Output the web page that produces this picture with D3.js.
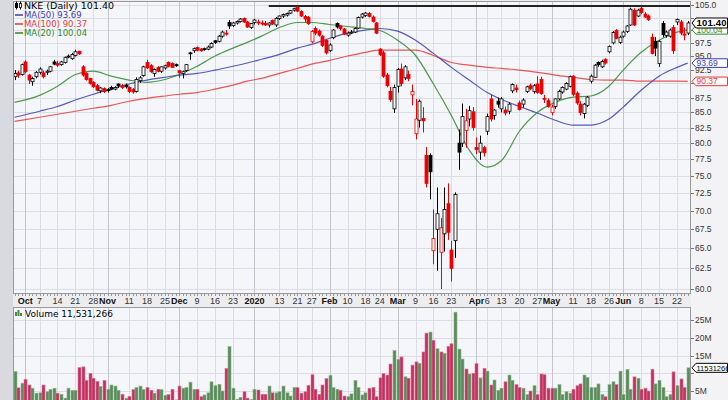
<!DOCTYPE html>
<html><head><meta charset="utf-8">
<script src="https://cdn.jsdelivr.net/npm/d3@7"></script>
<style>body{margin:0;background:#fff}svg{display:block}</style>
</head><body><svg id="c" width="728" height="400"></svg>
<script>
// ---------- DATA ----------
const dates = [
"2019-09-26","2019-09-27","2019-09-30",
"2019-10-01","2019-10-02","2019-10-03","2019-10-04","2019-10-07","2019-10-08","2019-10-09","2019-10-10","2019-10-11","2019-10-14","2019-10-15","2019-10-16","2019-10-17","2019-10-18","2019-10-21","2019-10-22","2019-10-23","2019-10-24","2019-10-25","2019-10-28","2019-10-29","2019-10-30","2019-10-31",
"2019-11-01","2019-11-04","2019-11-05","2019-11-06","2019-11-07","2019-11-08","2019-11-11","2019-11-12","2019-11-13","2019-11-14","2019-11-15","2019-11-18","2019-11-19","2019-11-20","2019-11-21","2019-11-22","2019-11-25","2019-11-26","2019-11-27","2019-11-29",
"2019-12-02","2019-12-03","2019-12-04","2019-12-05","2019-12-06","2019-12-09","2019-12-10","2019-12-11","2019-12-12","2019-12-13","2019-12-16","2019-12-17","2019-12-18","2019-12-19","2019-12-20","2019-12-23","2019-12-24","2019-12-26","2019-12-27","2019-12-30","2019-12-31",
"2020-01-02","2020-01-03","2020-01-06","2020-01-07","2020-01-08","2020-01-09","2020-01-10","2020-01-13","2020-01-14","2020-01-15","2020-01-16","2020-01-17","2020-01-21","2020-01-22","2020-01-23","2020-01-24","2020-01-27","2020-01-28","2020-01-29","2020-01-30","2020-01-31",
"2020-02-03","2020-02-04","2020-02-05","2020-02-06","2020-02-07","2020-02-10","2020-02-11","2020-02-12","2020-02-13","2020-02-14","2020-02-18","2020-02-19","2020-02-20","2020-02-21","2020-02-24","2020-02-25","2020-02-26","2020-02-27","2020-02-28",
"2020-03-02","2020-03-03","2020-03-04","2020-03-05","2020-03-06","2020-03-09","2020-03-10","2020-03-11","2020-03-12","2020-03-13","2020-03-16","2020-03-17","2020-03-18","2020-03-19","2020-03-20","2020-03-23","2020-03-24","2020-03-25","2020-03-26","2020-03-27","2020-03-30","2020-03-31",
"2020-04-01","2020-04-02","2020-04-03","2020-04-06","2020-04-07","2020-04-08","2020-04-09","2020-04-13","2020-04-14","2020-04-15","2020-04-16","2020-04-17","2020-04-20","2020-04-21","2020-04-22","2020-04-23","2020-04-24","2020-04-27","2020-04-28","2020-04-29","2020-04-30",
"2020-05-01","2020-05-04","2020-05-05","2020-05-06","2020-05-07","2020-05-08","2020-05-11","2020-05-12","2020-05-13","2020-05-14","2020-05-15","2020-05-18","2020-05-19","2020-05-20","2020-05-21","2020-05-22","2020-05-26","2020-05-27","2020-05-28","2020-05-29",
"2020-06-01","2020-06-02","2020-06-03","2020-06-04","2020-06-05","2020-06-08","2020-06-09","2020-06-10","2020-06-11","2020-06-12","2020-06-15","2020-06-16","2020-06-17","2020-06-18","2020-06-19","2020-06-22","2020-06-23","2020-06-24","2020-06-25"
];
const opens = [
91.2,91.9,91.6,
93.9,91.5,90.3,91.2,92.0,91.9,92.0,92.2,93.9,93.6,93.4,93.8,95.0,94.5,95.1,95.9,93.0,91.8,90.9,90.2,89.6,88.7,89.1,
88.9,89.3,89.0,89.9,89.6,89.7,89.3,88.9,88.6,90.5,91.4,93.8,93.2,91.8,92.9,92.2,92.8,93.8,93.6,93.4,
92.3,91.8,92.3,95.6,96.0,96.6,96.3,96.4,96.3,96.7,97.9,97.8,98.8,99.4,101.5,100.9,101.4,101.7,102.3,101.6,100.5,
101.5,101.6,101.4,101.3,101.0,101.9,101.0,102.3,102.8,103.0,103.4,104.0,104.6,103.7,102.7,102.5,97.7,100.3,99.8,98.8,98.0,
96.0,98.5,101.3,100.8,100.2,99.0,99.5,99.6,100.4,102.6,102.9,103.3,102.6,101.4,96.3,95.6,91.5,88.6,85.6,
89.5,92.6,91.0,91.6,88.0,81.5,83.7,84.0,78.1,78.1,64.7,67.5,64.5,66.9,71.0,64.8,66.0,80.0,80.0,82.0,83.9,85.1,
79.3,78.6,79.3,81.9,87.3,84.5,86.9,85.6,85.4,85.2,88.7,89.2,86.6,86.4,88.6,89.6,88.6,89.9,90.7,87.4,87.0,
85.0,86.0,87.3,88.5,89.0,89.5,91.3,88.3,86.4,84.8,86.2,90.4,91.1,93.8,93.0,94.4,95.8,97.5,99.9,97.6,
98.8,99.7,101.0,104.0,102.8,104.4,103.2,102.8,98.6,97.8,93.6,101.3,98.9,98.8,100.5,101.6,101.6,99.2,99.4
];
const highs = [
92.4,92.3,93.6,
94.2,91.7,91.2,92.2,92.9,92.3,92.5,93.1,94.3,94.1,94.1,94.9,95.3,95.6,96.2,96.0,93.3,92.0,91.0,90.4,89.9,89.4,89.3,
89.2,89.6,89.5,90.0,89.9,90.0,89.5,89.2,91.1,91.3,93.2,94.3,93.5,92.7,93.1,93.1,93.4,94.0,93.8,93.6,
92.4,92.3,93.5,95.8,96.6,96.8,96.5,96.6,97.0,97.6,98.0,99.0,99.9,100.0,102.0,101.6,101.9,102.4,102.5,101.8,101.4,
102.2,102.1,101.9,101.8,101.6,102.1,102.6,102.9,103.3,103.5,104.0,104.5,104.9,104.0,103.0,102.8,100.0,100.7,100.1,99.0,98.2,
97.4,100.2,101.5,101.0,100.4,99.7,100.0,100.5,102.7,103.4,103.6,103.6,102.9,101.6,96.5,96.0,91.9,89.4,89.8,
92.8,93.6,93.3,92.3,89.8,87.3,87.2,85.9,79.4,78.4,70.2,73.3,69.0,73.3,73.9,66.0,72.6,82.2,86.5,85.6,86.1,85.9,
80.9,81.2,79.6,84.8,88.0,85.6,87.5,87.6,86.0,86.7,90.0,89.8,87.0,87.4,89.6,90.0,89.9,91.3,91.2,88.0,87.4,
86.3,87.4,88.9,89.5,90.2,91.4,91.5,88.6,86.9,86.6,87.8,91.6,93.5,94.0,94.3,94.6,97.0,99.8,100.2,98.9,
99.9,101.0,104.5,104.4,104.3,104.8,103.6,103.1,99.3,98.6,98.0,101.8,99.9,100.3,101.0,102.3,102.0,100.5,101.8
];
const lows = [
90.6,91.0,91.4,
91.8,89.9,89.6,90.9,91.6,90.9,91.5,92.0,93.3,93.0,93.2,93.6,94.6,94.3,94.9,95.2,91.2,90.5,89.8,89.2,88.6,88.3,88.3,
88.4,88.8,88.8,89.2,89.0,89.1,88.3,88.2,88.4,90.1,91.2,92.6,91.9,91.2,92.0,91.9,92.5,92.9,92.8,93.0,
91.0,90.9,92.1,94.3,95.6,95.9,95.8,96.0,96.1,96.5,97.3,97.6,98.5,98.9,100.2,100.6,101.1,101.5,101.4,100.4,100.2,
101.1,101.0,100.9,100.8,100.5,101.0,100.6,102.0,102.4,102.7,103.2,103.7,103.6,102.6,101.6,101.0,97.4,99.0,98.7,96.7,95.3,
95.8,98.2,100.3,99.9,99.0,98.7,99.2,99.4,100.2,102.3,102.6,102.5,101.5,99.2,95.0,91.0,89.3,86.8,84.9,
88.4,89.5,90.6,90.4,86.2,80.6,82.5,81.7,73.3,71.6,63.0,62.2,60.0,64.6,66.1,60.9,63.8,75.9,79.4,79.3,82.7,82.0,
78.3,77.4,77.9,81.3,83.5,83.8,85.8,85.0,84.5,84.7,88.3,88.4,85.3,85.8,88.3,88.8,88.2,88.2,88.0,86.6,85.8,
84.5,85.6,87.1,88.2,88.8,89.3,87.8,86.3,84.5,84.0,85.9,90.0,91.0,93.0,92.8,93.4,95.5,97.2,98.2,97.3,
98.5,99.4,100.8,100.8,102.6,103.2,102.4,101.8,95.3,95.0,93.0,98.6,98.5,98.5,95.4,101.0,99.0,98.0,99.0
];
const closes = [
91.8,91.5,93.4,
92.1,90.6,90.9,92.0,92.6,91.2,92.2,93.0,93.5,93.3,93.9,94.7,94.8,95.3,95.8,95.4,91.5,90.7,90.0,89.4,88.8,89.2,88.6,
88.9,89.0,89.3,89.6,89.3,89.4,88.6,88.5,90.7,91.0,93.0,92.8,92.1,92.5,92.2,93.0,93.2,93.1,92.9,93.2,
91.9,92.1,93.4,95.5,96.4,96.1,96.0,96.2,96.7,97.4,97.6,98.8,99.6,99.2,100.8,101.4,101.7,102.2,101.6,100.6,101.3,
102.0,101.5,101.2,101.0,101.4,101.2,102.3,102.8,103.1,103.3,103.9,104.3,103.8,102.8,102.2,101.3,99.7,99.4,99.0,97.0,95.6,
97.1,100.0,100.6,100.3,99.2,99.4,99.6,100.3,102.5,103.2,103.4,102.7,101.7,99.4,95.3,91.3,89.6,87.2,89.3,
92.5,90.0,93.0,90.9,88.6,83.9,86.9,83.6,73.9,75.6,66.3,69.6,67.7,70.2,67.1,62.5,72.3,78.6,84.3,83.6,85.3,82.5,
79.0,80.0,78.5,84.3,83.9,85.4,86.4,87.3,84.9,86.4,89.8,88.9,85.5,87.1,89.4,89.1,89.6,88.4,88.2,87.3,86.0,
85.9,87.3,88.6,89.3,90.0,91.2,88.1,86.6,85.0,86.4,87.6,91.3,93.3,93.4,94.0,93.7,96.8,99.5,98.4,98.6,
99.6,100.8,104.2,101.0,104.0,103.5,102.6,102.1,95.5,96.5,97.8,99.1,99.6,100.0,96.0,102.1,99.4,99.0,101.4
];
const volumes = [ // millions of shares
10.5,5.9,7.2,
8.3,6.7,5.8,4.4,4.5,6.7,4.8,5.4,5.8,4.4,4.1,3.0,5.8,5.2,5.2,11.6,11.8,8.0,10.0,8.6,7.7,6.3,8.0,
5.5,6.7,6.4,5.2,4.1,3.0,3.5,5.4,6.0,6.4,5.4,6.0,5.2,4.4,5.5,5.4,3.8,4.0,5.5,2.5,
6.4,5.8,6.0,7.5,5.5,5.5,3.4,3.9,4.5,7.6,6.5,6.9,5.0,11.4,17.5,5.8,2.7,3.2,4.8,3.0,2.6,
5.5,5.3,4.1,4.1,6.4,4.5,4.5,4.8,6.4,4.5,3.6,6.0,6.0,4.4,4.8,6.6,9.6,5.5,4.1,6.7,8.5,
9.4,6.0,5.5,5.2,3.6,3.4,4.2,8.0,6.0,3.9,4.5,5.8,6.0,3.4,8.7,9.9,9.5,12.6,16.4,
13.9,14.6,9.0,8.6,12.3,13.2,12.8,16.0,21.3,21.6,19.3,16.9,16.0,15.6,17.6,18.3,27.2,16.8,14.0,11.2,9.8,10.0,
12.7,8.7,11.4,10.6,6.7,8.1,5.2,5.8,7.6,9.5,8.0,6.8,6.0,5.8,4.0,5.0,6.5,4.0,9.8,9.6,5.8,
5.8,5.8,6.8,4.0,4.8,4.4,5.5,6.5,7.0,9.5,8.8,6.0,6.0,7.0,4.0,3.4,6.8,7.6,6.8,10.6,
4.0,11.1,5.5,9.0,8.6,5.5,5.8,5.0,11.1,7.0,8.0,6.0,3.4,4.0,10.4,6.5,8.4,6.0,11.531266
];
const maDates = ["2019-09-26","2019-10-07","2019-10-14","2019-10-21","2019-10-28","2019-11-04","2019-11-11","2019-11-18","2019-11-25","2019-12-02","2019-12-09","2019-12-16","2019-12-23","2019-12-30","2020-01-06","2020-01-13","2020-01-21","2020-01-27","2020-02-03","2020-02-10","2020-02-18","2020-02-24","2020-03-02","2020-03-09","2020-03-16","2020-03-23","2020-03-30","2020-04-06","2020-04-13","2020-04-20","2020-04-27","2020-05-04","2020-05-11","2020-05-18","2020-05-26","2020-06-01","2020-06-08","2020-06-15","2020-06-22","2020-06-25"];
const ma20 = [86.7,87.9,89.5,91.6,92.2,91.3,90.6,90.2,90.7,91.6,93.1,95.0,96.5,97.6,98.8,100.5,101.5,101.5,101.1,100.7,100.3,99.9,98.0,95.1,89.9,84.5,78.9,76.3,77.3,81.9,85.0,86.7,87.6,87.8,89.5,92.4,95.7,98.0,99.6,100.04];
const ma50 = [84.2,85.2,86.0,87.1,88.1,89.0,89.9,90.6,91.1,91.5,91.8,92.4,93.1,93.7,94.4,95.3,96.5,97.2,98.4,99.4,100.0,100.3,99.8,98.0,95.5,92.9,90.6,88.4,87.2,86.0,84.9,83.7,82.9,82.9,83.9,85.9,88.8,91.3,92.9,93.69];
const ma100 = [83.5,84.2,84.7,85.2,85.7,86.2,86.9,87.4,87.8,88.1,88.4,89.0,89.7,90.4,90.9,91.8,92.7,93.5,94.2,95.0,95.7,96.1,96.1,96.1,95.1,93.8,93.3,92.9,92.7,92.4,92.0,91.5,91.1,90.7,90.6,90.6,90.4,90.4,90.4,90.37];
const priceTicks = [60,62.5,65,67.5,70,72.5,75,77.5,80,82.5,85,87.5,90,92.5,95,97.5,100,102.5,105];
const volTicks = [5,10,15,20,25];
const xLabels = [
["2019-10-01","Oct",1],["2019-10-07","7",0],["2019-10-14","14",0],["2019-10-21","21",0],["2019-10-28","28",0],
["2019-11-01","Nov",1],["2019-11-11","11",0],["2019-11-18","18",0],["2019-11-25","25",0],
["2019-12-02","Dec",1],["2019-12-09","9",0],["2019-12-16","16",0],["2019-12-23","23",0],
["2020-01-02","2020",1],["2020-01-13","13",0],["2020-01-21","21",0],["2020-01-27","27",0],
["2020-02-03","Feb",1],["2020-02-10","10",0],["2020-02-18","18",0],["2020-02-24","24",0],
["2020-03-02","Mar",1],["2020-03-09","9",0],["2020-03-16","16",0],["2020-03-23","23",0],
["2020-04-01","Apr",1],["2020-04-06","6",0],["2020-04-13","13",0],["2020-04-20","20",0],["2020-04-27","27",0],
["2020-05-01","May",1],["2020-05-11","11",0],["2020-05-18","18",0],["2020-05-26","26",0],
["2020-06-01","Jun",1],["2020-06-08","8",0],["2020-06-15","15",0],["2020-06-22","22",0]
];
const resistance = {from:"2020-01-08", price:104.85};
const legend = {title:"NKE (Daily) 101.40", last:101.40, ma50:93.69, ma100:90.37, ma20:100.04, vol:"Volume 11,531,266", volTag:"11531266"};

// ---------- LAYOUT ----------
const svg = d3.select("#c");
const L=13, R=691, PT=1, PB=294, VT=307, VB=412;
const C_BLUE="#3c3cb4", C_RED="#e8393b", C_GREEN="#2f8a2f";
const FONT="'DejaVu Sans', Verdana, sans-serif";
const AFONT="'Liberation Sans', Arial, sans-serif";

svg.append("rect").attr("width",728).attr("height",400).attr("fill","#ededf0");
svg.append("rect").attr("x",0).attr("y",0).attr("width",L).attr("height",400).attr("fill","#d9dadf");
svg.append("rect").attr("x",R).attr("y",0).attr("width",728-R).attr("height",400).attr("fill","#f3f3f5");

const x = d3.scalePoint().domain(dates).range([14.5, 687.7]);
const y = d3.scaleLog().domain([60,105]).range([289,5.3]);
const yv = d3.scaleLinear().domain([0,25]).range([408.8,320]);

svg.append("rect").attr("x",L).attr("y",PT).attr("width",R-L).attr("height",PB-PT).attr("fill","#f5f6fa");
svg.append("rect").attr("x",L).attr("y",VT).attr("width",R-L).attr("height",VB-VT).attr("fill","#f5f6fa");

const gridC="#dcdde4", gridM="#c4c5cc";
svg.append("g").selectAll("line").data(priceTicks).join("line")
  .attr("x1",L).attr("x2",R).attr("y1",d=>Math.round(y(d))+0.5).attr("y2",d=>Math.round(y(d))+0.5)
  .attr("stroke",gridC).attr("stroke-width",1);
svg.append("g").selectAll("line").data(volTicks).join("line")
  .attr("x1",L).attr("x2",R).attr("y1",d=>Math.round(yv(d))+0.5).attr("y2",d=>Math.round(yv(d))+0.5)
  .attr("stroke",gridC).attr("stroke-width",1);
[[PT,PB],[VT,VB]].forEach(([t,b])=>{
  svg.append("g").selectAll("line").data(xLabels).join("line")
    .attr("x1",d=>Math.round(x(d[0]))+0.5).attr("x2",d=>Math.round(x(d[0]))+0.5)
    .attr("y1",t).attr("y2",b).attr("stroke",d=>d[2]?gridM:gridC).attr("stroke-width",1);
});

const tags = [
  {y:y(legend.ma20), txt:legend.ma20.toFixed(2), stroke:C_GREEN, col:C_GREEN, bold:false},
  {y:y(legend.last), txt:legend.last.toFixed(2), stroke:"#000", col:"#000", bold:true},
  {y:y(legend.ma50), txt:legend.ma50.toFixed(2), stroke:C_BLUE, col:C_BLUE, bold:false},
  {y:y(legend.ma100), txt:legend.ma100.toFixed(2), stroke:C_RED, col:C_RED, bold:false}
];
const covered = t => tags.some(g=>Math.abs(g.y-y(t))<6);

const ax = svg.append("g");
ax.selectAll("text").data(priceTicks.filter(t=>!covered(t))).join("text")
  .attr("x",695).attr("y",d=>y(d)+3).attr("font-family",AFONT).attr("font-size",8.5).attr("fill","#333")
  .text(d=>d.toFixed(1));
ax.selectAll("line").data(priceTicks).join("line")
  .attr("x1",R).attr("x2",R+3).attr("y1",d=>Math.round(y(d))+0.5).attr("y2",d=>Math.round(y(d))+0.5)
  .attr("stroke","#777");
const vax = svg.append("g");
vax.selectAll("text").data(volTicks.filter(t=>Math.abs(yv(t)-yv(volumes[volumes.length-1]))>6)).join("text")
  .attr("x",695).attr("y",d=>yv(d)+3).attr("font-family",AFONT).attr("font-size",8.5).attr("fill","#333")
  .text(d=>d+"M");
vax.selectAll("line").data(volTicks).join("line")
  .attr("x1",R).attr("x2",R+3).attr("y1",d=>Math.round(yv(d))+0.5).attr("y2",d=>Math.round(yv(d))+0.5)
  .attr("stroke","#777");

svg.append("g").selectAll("line").data(dates).join("line")
  .attr("x1",d=>Math.round(x(d))+0.5).attr("x2",d=>Math.round(x(d))+0.5)
  .attr("y1",PB).attr("y2",PB+2).attr("stroke","#999");
svg.append("g").selectAll("text").data(xLabels).join("text")
  .attr("x",d=>x(d[0])).attr("y",304).attr("text-anchor","middle")
  .attr("font-family",AFONT).attr("font-size",9).attr("font-weight",d=>d[2]?"bold":"normal")
  .attr("fill",d=>d[2]?"#111":"#333").text(d=>d[1]);

const maLine = d3.line().x(d=>x(d[0])).y(d=>y(d[1])).curve(d3.curveMonotoneX);
svg.append("clipPath").attr("id","pc").append("rect").attr("x",L).attr("y",PT).attr("width",R-L).attr("height",PB-PT);
const pg = svg.append("g").attr("clip-path","url(#pc)");
[[ma100,C_RED],[ma50,C_BLUE],[ma20,C_GREEN]].forEach(([arr,c])=>{
  pg.append("path").attr("d",maLine(maDates.map((d,i)=>[d,arr[i]]))).attr("fill","none")
    .attr("stroke",c).attr("stroke-width",1.2).attr("opacity",0.85);
});

pg.append("line").attr("x1",x(resistance.from)).attr("x2",R).attr("y1",y(resistance.price)).attr("y2",y(resistance.price))
  .attr("stroke","#222").attr("stroke-width",2);

const bars = dates.map((d,i)=>({d,o:opens[i],h:highs[i],l:lows[i],c:closes[i],v:volumes[i],pc:i?closes[i-1]:opens[i]}));
const cg = pg.append("g");
bars.forEach(b=>{
  const col = b.c>=b.pc ? "#000" : "#ee0000";
  const cx = Math.round(x(b.d))+0.5;
  cg.append("line").attr("x1",cx).attr("x2",cx).attr("y1",y(b.h)).attr("y2",y(b.l)).attr("stroke",col).attr("stroke-width",1);
  const top=y(Math.max(b.o,b.c)), bot=y(Math.min(b.o,b.c));
  const hollow = b.c>b.o;
  cg.append("rect").attr("x",cx-1.5).attr("y",top).attr("width",3).attr("height",Math.max(1,bot-top))
    .attr("fill",hollow?"#fff":col).attr("stroke",col).attr("stroke-width",0.8);
});

svg.append("clipPath").attr("id","vc").append("rect").attr("x",L).attr("y",VT).attr("width",R-L).attr("height",VB-VT);
svg.append("g").attr("clip-path","url(#vc)").selectAll("rect").data(bars).join("rect")
  .attr("x",d=>Math.round(x(d.d))-1).attr("width",3)
  .attr("y",d=>yv(d.v)).attr("height",d=>yv(0)-yv(d.v))
  .attr("fill",d=>d.c>=d.pc?"#5a8a5a":"#c0305e")
  .attr("stroke",d=>d.c>=d.pc?"#8db48d":"#e07898").attr("stroke-width",0.6);

svg.append("rect").attr("x",L+0.5).attr("y",PT+0.5).attr("width",R-L-1).attr("height",PB-PT-1).attr("fill","none").attr("stroke","#999");
svg.append("rect").attr("x",L+0.5).attr("y",VT+0.5).attr("width",R-L-1).attr("height",VB-VT).attr("fill","none").attr("stroke","#999");

const lg = svg.append("g").attr("font-family",FONT);
lg.append("line").attr("x1",16.5).attr("x2",16.5).attr("y1",1.5).attr("y2",9.5).attr("stroke","#000");
lg.append("rect").attr("x",15).attr("y",3).attr("width",3).attr("height",5).attr("fill","#000");
lg.append("line").attr("x1",20.5).attr("x2",20.5).attr("y1",1.5).attr("y2",9.5).attr("stroke","#000");
lg.append("rect").attr("x",19.5).attr("y",3.5).attr("width",2).attr("height",4).attr("fill","#fff").attr("stroke","#000").attr("stroke-width",0.8);
lg.append("text").attr("x",24).attr("y",9).attr("font-size",9.5).attr("fill","#000").text(legend.title);
[[`MA(50) ${legend.ma50}`,C_BLUE,18],[`MA(100) ${legend.ma100}`,C_RED,27],[`MA(20) ${legend.ma20}`,C_GREEN,36]].forEach(([t,c,yy])=>{
  lg.append("line").attr("x1",15).attr("x2",23).attr("y1",yy-3).attr("y2",yy-3).attr("stroke",c).attr("stroke-width",1.5);
  lg.append("text").attr("x",24).attr("y",yy).attr("font-size",8.5).attr("fill",c).text(t);
});
[[15,312,4],[17.5,310,6],[20,313,3]].forEach(([bx,by,bh])=>lg.append("rect").attr("x",bx).attr("y",by).attr("width",2).attr("height",bh).attr("fill","#4a8a3a"));
lg.append("text").attr("x",25).attr("y",317).attr("font-size",9).attr("fill","#000").text(legend.vol);

function tag(yy,txt,stroke,tcol,bold,fs,h){
  const g=svg.append("g");
  g.append("path").attr("d",`M${R+1},${yy} L${R+5},${yy-h} L727.5,${yy-h} L727.5,${yy+h} L${R+5},${yy+h} Z`)
    .attr("fill","#fff").attr("stroke",stroke).attr("stroke-width",1);
  g.append("text").attr("x",R+5.5).attr("y",yy+fs*0.36).attr("font-family",AFONT).attr("font-size",fs)
    .attr("font-weight",bold?"bold":"normal").attr("fill",tcol).attr("textLength",bold?30:null).text(txt);
}
tags.forEach(t=>tag(t.y,t.txt,t.stroke,t.col,t.bold,t.bold?9.5:8.5,t.bold?5:4.3));
tag(yv(volumes[volumes.length-1]),legend.volTag,"#000","#000",false,7.5,4.5);
</script></body></html>
